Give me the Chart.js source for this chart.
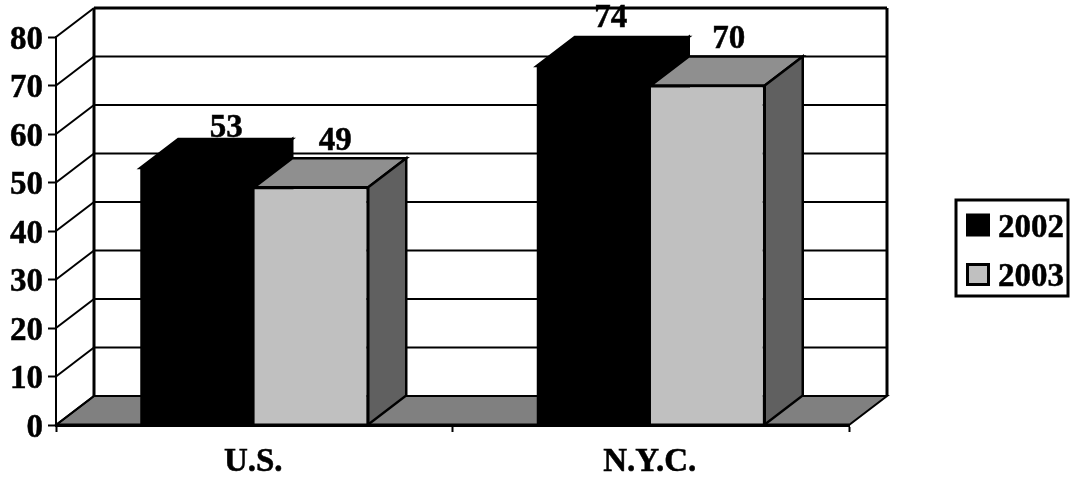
<!DOCTYPE html>
<html>
<head>
<meta charset="utf-8">
<script src="https://cdn.jsdelivr.net/npm/chart.js@4"></script>
<style>
  html, body { margin: 0; padding: 0; background: #fff; }
  #wrap { position: relative; width: 1075px; height: 481px; }
</style>
</head>
<body>
<div id="wrap"><canvas id="barChart"></canvas></div>
<script>
// Data
const categories = ['U.S.', 'N.Y.C.'];
const values2002 = [53, 74];
const values2003 = [49, 70];
const yTicks = [0, 10, 20, 30, 40, 50, 60, 70, 80];

const FONT = 'bold 33px "Liberation Serif", serif';
const DEPTH_X = 38;
const DEPTH_Y = 29;
// nudges for the value labels, one pair per bar [dx, dy]
const labelNudge = [
  [[29, -2], [24, -8]],
  [[17, -10], [21, -9]]
];

function poly(ctx, pts, fill, lineWidth) {
  ctx.beginPath();
  pts.forEach((p, i) => i ? ctx.lineTo(p[0], p[1]) : ctx.moveTo(p[0], p[1]));
  ctx.closePath();
  ctx.fillStyle = fill;
  ctx.fill();
  ctx.lineWidth = lineWidth;
  ctx.strokeStyle = '#000';
  ctx.stroke();
}

function line(ctx, x1, y1, x2, y2, w) {
  ctx.beginPath();
  ctx.moveTo(x1, y1);
  ctx.lineTo(x2, y2);
  ctx.lineWidth = w;
  ctx.strokeStyle = '#000';
  ctx.stroke();
}

// Walls, floor and the top and side faces of the bars
const box3d = {
  id: 'box3d',
  beforeDatasetsDraw(chart) {
    const { ctx, chartArea: a, scales: { y } } = chart;
    ctx.save();
    ctx.lineJoin = 'miter';

    // floor
    poly(ctx, [[a.left, a.bottom], [a.right, a.bottom],
      [a.right + DEPTH_X, a.bottom - DEPTH_Y], [a.left + DEPTH_X, a.bottom - DEPTH_Y]], '#808080', 2);

    // side wall lines and back wall grid
    yTicks.forEach(t => {
      const py = y.getPixelForValue(t);
      line(ctx, a.left, py, a.left + DEPTH_X, py - DEPTH_Y, 2);
      line(ctx, a.left + DEPTH_X, py - DEPTH_Y, a.right + DEPTH_X, py - DEPTH_Y, t === 80 ? 3 : 2);
    });
    line(ctx, a.left + DEPTH_X, a.top - DEPTH_Y, a.left + DEPTH_X, a.bottom - DEPTH_Y, 3);
    line(ctx, a.right + DEPTH_X, a.top - DEPTH_Y, a.right + DEPTH_X, a.bottom - DEPTH_Y, 3);

    // top and side faces, back series first
    const m0 = chart.getDatasetMeta(0).data;
    const m1 = chart.getDatasetMeta(1).data;
    categories.forEach((c, i) => {
      [m0[i], m1[i]].forEach((bar, s) => {
        const p = bar.getProps(['x', 'y', 'base', 'width'], true);
        const l = p.x - p.width / 2, r = p.x + p.width / 2;
        const top = s === 0 ? '#000' : '#8f8f8f';
        const side = s === 0 ? '#000' : '#606060';
        poly(ctx, [[l, p.y], [r, p.y], [r + DEPTH_X, p.y - DEPTH_Y], [l + DEPTH_X, p.y - DEPTH_Y]], top, 2.5);
        poly(ctx, [[r, p.y], [r, p.base], [r + DEPTH_X, p.base - DEPTH_Y], [r + DEPTH_X, p.y - DEPTH_Y]], side, 2.5);
      });
    });
    ctx.restore();
  },
  afterDatasetsDraw(chart) {
    const { ctx, chartArea: a } = chart;
    ctx.save();
    line(ctx, a.left, a.bottom, a.right, a.bottom, 3);

    // value labels
    ctx.font = FONT;
    ctx.fillStyle = '#000';
    ctx.strokeStyle = '#000';
    ctx.lineWidth = 0.5;
    ctx.textAlign = 'center';
    ctx.textBaseline = 'alphabetic';
    chart.data.datasets.forEach((ds, s) => {
      chart.getDatasetMeta(s).data.forEach((bar, i) => {
        const p = bar.getProps(['x', 'y'], true);
        const n = labelNudge[i][s];
        ctx.fillText(ds.data[i], p.x + n[0], p.y - DEPTH_Y + n[1]);
        ctx.strokeText(ds.data[i], p.x + n[0], p.y - DEPTH_Y + n[1]);
      });
    });

    // legend box
    ctx.lineWidth = 3;
    ctx.strokeRect(956, 200, 112, 96);
    const rows = [225, 274.5];
    chart.data.datasets.forEach((ds, s) => {
      ctx.fillStyle = ds.backgroundColor;
      ctx.lineWidth = 3;
      ctx.fillRect(967.5, rows[s] - 10, 21, 20);
      ctx.strokeRect(967.5, rows[s] - 10, 21, 20);
      ctx.fillStyle = '#000';
      ctx.font = FONT;
      ctx.textAlign = 'left';
      ctx.lineWidth = 0.5;
      ctx.fillText(ds.label, 998, rows[s] + 11.5);
      ctx.strokeText(ds.label, 998, rows[s] + 11.5);
    });
    ctx.restore();
  }
};

const tickFont = { family: '"Liberation Serif", serif', weight: 'bold', size: 33 };

new Chart(document.getElementById('barChart').getContext('2d'), {
  type: 'bar',
  data: {
    labels: categories,
    datasets: [
      { label: '2002', data: values2002, backgroundColor: '#000000', borderColor: '#000', borderWidth: 0 },
      { label: '2003', data: values2003, backgroundColor: '#c0c0c0', borderColor: '#000',
        borderSkipped: false, borderWidth: { top: 2, right: 2, left: 0, bottom: 0 } }
    ]
  },
  options: {
    responsive: true,
    maintainAspectRatio: false,
    animation: false,
    devicePixelRatio: 1,
    layout: { padding: { left: 0, right: 226, top: 37, bottom: 0 } },
    datasets: { bar: { categoryPercentage: 0.575, barPercentage: 1 } },
    plugins: { legend: { display: false }, tooltip: { enabled: false } },
    scales: {
      x: {
        grid: { drawOnChartArea: false, tickLength: 7, tickColor: '#000', tickWidth: 2, offset: true },
        border: { color: '#000', width: 3 },
        ticks: { color: '#000', font: tickFont, padding: 11, labelOffset: -1, maxRotation: 0, textStrokeColor: '#000', textStrokeWidth: 0.5 },
        afterFit(scale) { scale.height = 56; }
      },
      y: {
        min: 0,
        max: 80,
        grid: { drawOnChartArea: false, tickLength: 8, tickColor: '#000', tickWidth: 2 },
        border: { color: '#000', width: 2 },
        ticks: { stepSize: 10, color: '#000', font: tickFont, padding: 5, labelOffset: 3, textStrokeColor: '#000', textStrokeWidth: 0.5 },
        afterFit(scale) { scale.width = 56; }
      }
    }
  },
  plugins: [box3d]
});
</script>
</body>
</html>
